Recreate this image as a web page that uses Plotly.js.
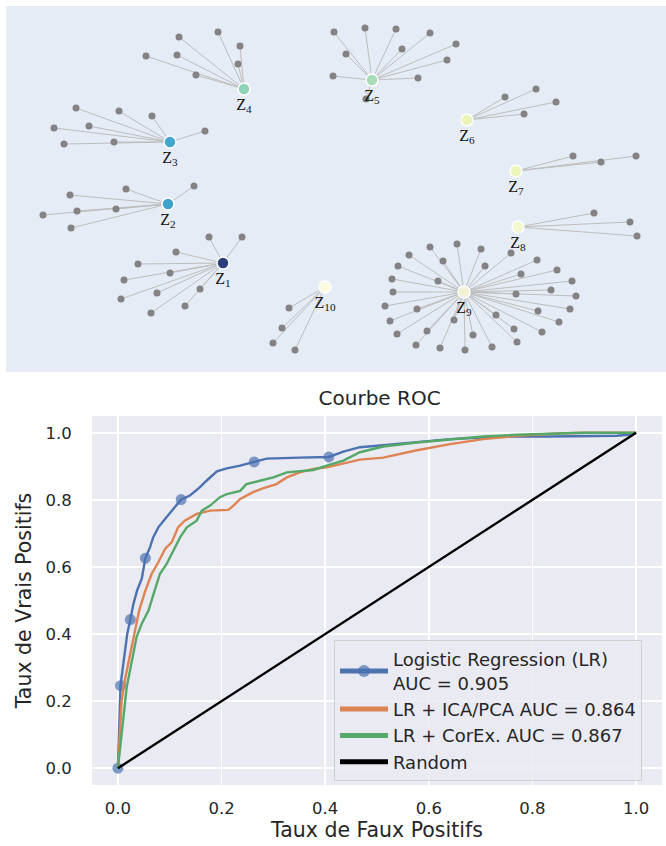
<!DOCTYPE html>
<html>
<head>
<meta charset="utf-8">
<script src="https://cdn.plot.ly/plotly-3.0.1.min.js"></script>
<style>html,body{margin:0;padding:0;background:#fff;}#chart{width:666px;height:846px;}</style>
</head>
<body>
<div id="chart"></div>
<script>
// ---------------- Network data (layout coordinates) ----------------
const hubNames = ['Z<sub>1</sub>','Z<sub>2</sub>','Z<sub>3</sub>','Z<sub>4</sub>','Z<sub>5</sub>','Z<sub>6</sub>','Z<sub>7</sub>','Z<sub>8</sub>','Z<sub>9</sub>','Z<sub>10</sub>'];
const hubX = [223, 168, 170, 244, 372, 467, 516, 518, 464, 325];
const hubY = [263, 204, 142, 89, 80, 120, 171, 227, 292, 287];

const leafHub = [
  0,0,0,0,0,0,0,0,0,0,0,
  1,1,1,1,1,1,1,
  2,2,2,2,2,2,2,2,
  3,3,3,3,3,3,3,
  4,4,4,4,4,4,4,4,4,4,4,
  5,5,5,5,
  6,6,6,
  7,7,7,
  8,8,8,8,8,8,8,8,8,8,8,8,8,8,8,8,8,8,8,8,8,8,8,8,8,8,8,8,8,8,8,8,8,8,8,8,
  9,9,9,9
];
const leafX = [
  209,242,176,138,170,124,157,200,121,185,151,
  126,194,70,43,77,116,71,
  76,119,152,54,89,205,64,114,
  179,218,240,238,177,146,196,
  334,365,396,430,456,346,402,447,418,333,366,
  505,536,556,524,
  573,601,636,
  594,630,637,
  457,481,511,537,557,572,576,570,559,542,517,492,465,440,416,397,390,385,393,392,398,409,430,
  443,485,521,551,516,538,514,496,473,454,427,417,438,
  289,282,273,295
];
const leafY = [
  237,237,252,264,273,280,293,289,299,306,313,
  189,186,195,215,211,209,228,
  108,111,116,128,126,131,144,142,
  37,32,46,64,55,56,75,
  32,28,29,33,44,54,49,60,78,76,99,
  97,89,102,114,
  156,162,156,
  213,222,236,
  244,249,253,260,270,281,296,309,322,332,342,347,350,348,345,334,321,306,292,279,266,255,247,
  261,266,274,290,294,311,329,315,335,320,331,309,281,
  308,328,343,350
];

// ---------------- ROC data ----------------
const fprLR = [0,0.003,0.005,0.012,0.018,0.024,0.030,0.037,0.046,0.053,0.062,0.068,0.078,0.091,0.104,0.122,0.139,0.158,0.171,0.191,0.210,0.236,0.263,0.287,0.351,0.407,0.435,0.467,0.512,0.577,0.641,0.705,0.770,0.834,0.963,0.990,1.0];
const tprLR = [0,0.150,0.246,0.330,0.400,0.443,0.490,0.530,0.565,0.626,0.659,0.688,0.718,0.743,0.768,0.801,0.813,0.837,0.857,0.885,0.894,0.902,0.913,0.923,0.926,0.928,0.944,0.957,0.963,0.973,0.981,0.986,0.989,0.989,0.991,0.995,1.0];
const markedLR = [0,2,5,9,15,22,25];

const fprICA = [0,0.004,0.007,0.013,0.020,0.030,0.041,0.052,0.065,0.078,0.091,0.104,0.116,0.129,0.152,0.178,0.213,0.223,0.236,0.261,0.281,0.306,0.326,0.351,0.377,0.403,0.429,0.467,0.512,0.577,0.641,0.705,0.770,0.850,0.900,1.0];
const tprICA = [0,0.100,0.200,0.260,0.312,0.391,0.470,0.525,0.579,0.614,0.654,0.674,0.718,0.738,0.758,0.768,0.770,0.783,0.803,0.823,0.835,0.847,0.867,0.882,0.892,0.897,0.907,0.920,0.926,0.948,0.966,0.981,0.991,0.998,1.0,1.0];

const fprCorEx = [0,0.008,0.013,0.017,0.026,0.036,0.046,0.059,0.068,0.081,0.094,0.104,0.120,0.133,0.152,0.162,0.178,0.197,0.210,0.236,0.248,0.274,0.300,0.326,0.377,0.403,0.435,0.467,0.512,0.577,0.641,0.705,0.770,0.834,0.900,1.0];
const tprCorEx = [0,0.120,0.200,0.242,0.312,0.391,0.431,0.470,0.515,0.579,0.609,0.639,0.688,0.718,0.738,0.768,0.783,0.808,0.817,0.827,0.847,0.857,0.867,0.882,0.889,0.902,0.917,0.942,0.959,0.971,0.981,0.989,0.994,0.998,1.0,1.0];

const randX = [0, 1];
const randY = [0, 1];

const seriesNames = ['Logistic Regression (LR)<br>AUC = 0.905', 'LR + ICA/PCA AUC = 0.864', 'LR + CorEx. AUC = 0.867', 'Random'];
const tickVals = [0, 0.2, 0.4, 0.6, 0.8, 1.0];
const tickText = ['0.0', '0.2', '0.4', '0.6', '0.8', '1.0'];

// ---------------- styles ----------------
const hubColors = ['#2b3f7c','#3fa3c9','#43a7cd','#8ed4b8','#a7dcb5','#e9f4b5','#ecf5ba','#f4f8d2','#f1f2d4','#fbfbe1'];
const textColor = '#262626';
const baseFont = 'DejaVu Sans, Verdana, sans-serif';

// build edges
const edgeX = [], edgeY = [];
for (let i = 0; i < leafX.length; i++) {
  const h = leafHub[i];
  edgeX.push(leafX[i], hubX[h], null);
  edgeY.push(leafY[i], hubY[h], null);
}

const markerSizes = fprLR.map((_, i) => markedLR.includes(i) ? 11 : 0);

const traces = [
  {x: edgeX, y: edgeY, xaxis: 'x2', yaxis: 'y2', mode: 'lines', type: 'scatter',
   line: {color: '#bdbdbd', width: 1}, hoverinfo: 'skip', showlegend: false},
  {x: leafX, y: leafY, xaxis: 'x2', yaxis: 'y2', mode: 'markers', type: 'scatter',
   marker: {color: '#838383', size: 7}, hoverinfo: 'skip', showlegend: false},
  {x: hubX, y: hubY, xaxis: 'x2', yaxis: 'y2', mode: 'markers+text', type: 'scatter',
   text: hubNames, textposition: 'bottom center',
   textfont: {family: 'Liberation Serif, Times New Roman, serif', size: 16, color: '#111'},
   marker: {color: hubColors, size: 12, line: {color: '#ffffff', width: 1.5}},
   hoverinfo: 'skip', showlegend: false},

  {x: fprLR, y: tprLR, mode: 'lines+markers', type: 'scatter', name: seriesNames[0],
   legendgroup: 'a',
   line: {color: '#4c72b0', width: 2.4}, marker: {color: '#4c72b0', size: markerSizes, line: {width: 0}}},
  {x: fprICA, y: tprICA, mode: 'lines', type: 'scatter', name: seriesNames[1],
   legendgroup: 'b', line: {color: '#dd8452', width: 2.4}},
  {x: fprCorEx, y: tprCorEx, mode: 'lines', type: 'scatter', name: seriesNames[2],
   legendgroup: 'c', line: {color: '#55a868', width: 2.4}},
  {x: randX, y: randY, mode: 'lines', type: 'scatter', name: seriesNames[3],
   legendgroup: 'd', line: {color: '#000000', width: 2.4}}
];

const layout = {
  width: 666, height: 846,
  paper_bgcolor: '#ffffff', plot_bgcolor: '#eaeaf2',
  margin: {l: 6, r: 0, t: 6, b: 61},
  font: {family: baseFont, color: textColor, size: 16},
  title: {text: 'Courbe ROC', x: 377/666, xanchor: 'center', xref: 'paper',
          y: 1 - 398/846, yanchor: 'middle', yref: 'container',
          font: {family: baseFont, size: 20, color: textColor}},
  xaxis: {domain: [86/660, 656/660], range: [-0.05, 1.05], anchor: 'y',
          tickvals: tickVals, ticktext: tickText, showgrid: true, gridcolor: '#ffffff', gridwidth: 1.5,
          zeroline: false, showline: false, ticks: 'outside', ticklen: 8, tickcolor: 'rgba(0,0,0,0)',
          tickfont: {size: 16.5, color: textColor},
          title: {text: 'Taux de Faux Positifs', font: {size: 20.5, color: textColor}, standoff: 5}},
  yaxis: {domain: [0, (785-416)/779], range: [-0.05, 1.05], anchor: 'x',
          tickvals: tickVals, ticktext: tickText, showgrid: true, gridcolor: '#ffffff', gridwidth: 1.5,
          zeroline: false, showline: false, ticks: 'outside', ticklen: 16, tickcolor: 'rgba(0,0,0,0)',
          tickfont: {size: 16.5, color: textColor},
          title: {text: 'Taux de Vrais Positifs', font: {size: 20.5, color: textColor}, standoff: 8}},
  xaxis2: {domain: [0, 1], range: [6, 666], anchor: 'y2', visible: false, fixedrange: true},
  yaxis2: {domain: [(785-372)/779, 1], range: [372, 6], anchor: 'x2', visible: false, fixedrange: true},
  shapes: [{type: 'rect', xref: 'x2 domain', yref: 'y2 domain', x0: 0, x1: 1, y0: 0, y1: 1,
            fillcolor: '#e5ecf6', line: {width: 0}, layer: 'below'}],
  legend: {x: (334-6)/660, y: (785-640)/779, xanchor: 'left', yanchor: 'top',
           bgcolor: 'rgba(234,234,242,0.85)', bordercolor: '#cfcfcf', borderwidth: 1,
           font: {family: baseFont, size: 18, color: textColor},
           itemsizing: 'constant', traceorder: 'grouped', tracegroupgap: 0, itemwidth: 48},
  showlegend: true
};

Plotly.newPlot('chart', traces, layout, {staticPlot: true, displayModeBar: false});
</script>
</body>
</html>
